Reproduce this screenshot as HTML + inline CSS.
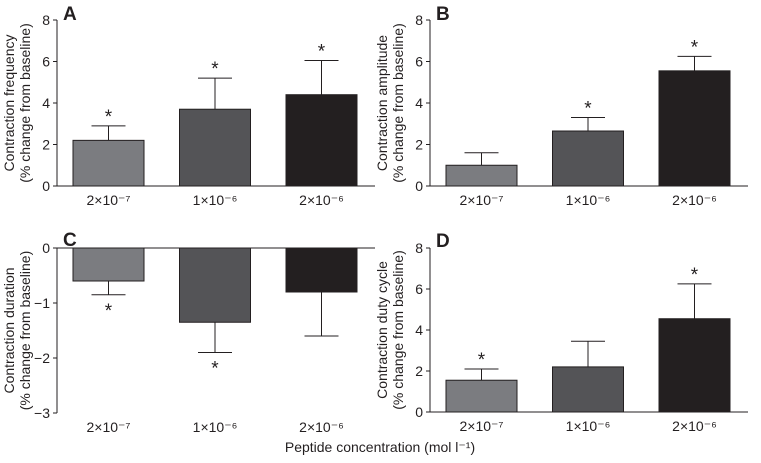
<!DOCTYPE html>
<html><head><meta charset="utf-8"><style>
body{margin:0;background:#fff;}
svg text{font-family:"Liberation Sans",sans-serif;fill:#231f20;}
</style></head><body>
<svg id="c" width="761" height="458" xmlns="http://www.w3.org/2000/svg"></svg>
<script>
const categories=["2\u00d710\u207b\u2077","1\u00d710\u207b\u2076","2\u00d710\u207b\u2076"];
const valuesA=[2.2,3.7,4.4]; const errA=[0.7,1.5,1.65]; const sigA=[1,1,1];
const valuesB=[1.0,2.65,5.55]; const errB=[0.6,0.65,0.7]; const sigB=[0,1,1];
const valuesC=[-0.6,-1.35,-0.8]; const errC=[0.25,0.55,0.8]; const sigC=[1,1,0];
const valuesD=[1.55,2.2,4.55]; const errD=[0.55,1.25,1.7]; const sigD=[1,0,1];
const ticksPos=[0,2,4,6,8]; const ticksNeg=[0,-1,-2,-3];
const colors=["#7b7c80","#545457","#231f20"];
const svg=document.getElementById('c');const NS="http://www.w3.org/2000/svg";
function el(t,a,txt){const e=document.createElementNS(NS,t);for(const k in a)e.setAttribute(k,a[k]);if(txt!==undefined)e.textContent=txt;svg.appendChild(e);return e;}
function panel(o){
 const y=v=>o.y0+(v-o.dmin)/(o.dmax-o.dmin)*(o.y1-o.y0);
 const ax=el('line',{x1:o.ax,x2:o.ax,y1:y(o.dmin),y2:y(o.dmax),stroke:'#231f20','stroke-width':1});
 
 const baseV=o.neg?o.dmax:0;
 const xa=el('line',{x1:o.ax,x2:o.ax+318,y1:y(0),y2:y(0),stroke:'#231f20','stroke-width':1});
 
 o.ticks.forEach(t=>{const l=el('line',{x1:o.ax-4,x2:o.ax,y1:y(t),y2:y(t),stroke:'#231f20'});
  
  const tx=el('text',{x:o.ax-7,y:y(t)+5,'font-size':14,'text-anchor':'end'},t===0?'0':(t<0?'\u2212'+(-t):t));
  });
 o.vals.forEach((v,i)=>{
  const x=o.ax+16+i*106.5,w=71,cx=x+w/2;
  const top=Math.min(y(0),y(v)),h=Math.abs(y(v)-y(0));
  const r=el('rect',{x:x,y:top,width:w,height:h,fill:colors[i],stroke:'#231f20','stroke-width':1});
  
  const ev=v+(v<0?-o.err[i]:o.err[i]);
  const e1=el('line',{x1:cx,x2:cx,y1:y(v),y2:y(ev),stroke:'#231f20'});
  
  const e2=el('line',{x1:cx-17,x2:cx+17,y1:y(ev),y2:y(ev),stroke:'#231f20'});
  
  if(o.sig[i]){const s=el('text',{x:cx,y:v<0?y(ev)+22:y(ev)-3,'font-size':19,'text-anchor':'middle'},'*');
   }
  const c=el('text',{x:cx,y:y(baseV)+19,'font-size':14,'text-anchor':'middle'},categories[i]);
  
 });
 const L=el('text',{x:o.ax+6,y:o.lety,'font-size':19,'font-weight':'bold'},o.letter);
 
 const my=(y(o.dmin)+y(o.dmax))/2;
 o.title.forEach((t,k)=>{const tt=el('text',{x:0,y:0,'font-size':14,'text-anchor':'middle',transform:`translate(${o.ax-(43-k*16)},${my}) rotate(-90)`},t);
  });
}
panel({id:'a',letter:'A',ax:57,y0:186,y1:20,dmin:0,dmax:8,ticks:ticksPos,vals:valuesA,err:errA,sig:sigA,lety:20,title:['Contraction frequency','(% change from baseline)']});
panel({id:'b',letter:'B',ax:430,y0:186,y1:20,dmin:0,dmax:8,ticks:ticksPos,vals:valuesB,err:errB,sig:sigB,lety:20,title:['Contraction amplitude','(% change from baseline)']});
panel({id:'c',letter:'C',ax:57,y0:248,y1:413,dmin:0,dmax:-3,ticks:ticksNeg,vals:valuesC,err:errC,sig:sigC,lety:246,neg:true,title:['Contraction duration','(% change from baseline)']});
panel({id:'d',letter:'D',ax:430,y0:412,y1:248,dmin:0,dmax:8,ticks:ticksPos,vals:valuesD,err:errD,sig:sigD,lety:247,title:['Contraction duty cycle','(% change from baseline)']});
const xt=el('text',{x:380,y:452,'font-size':14,'text-anchor':'middle'},'Peptide concentration (mol l\u207b\u00b9)');

</script>
</body></html>
